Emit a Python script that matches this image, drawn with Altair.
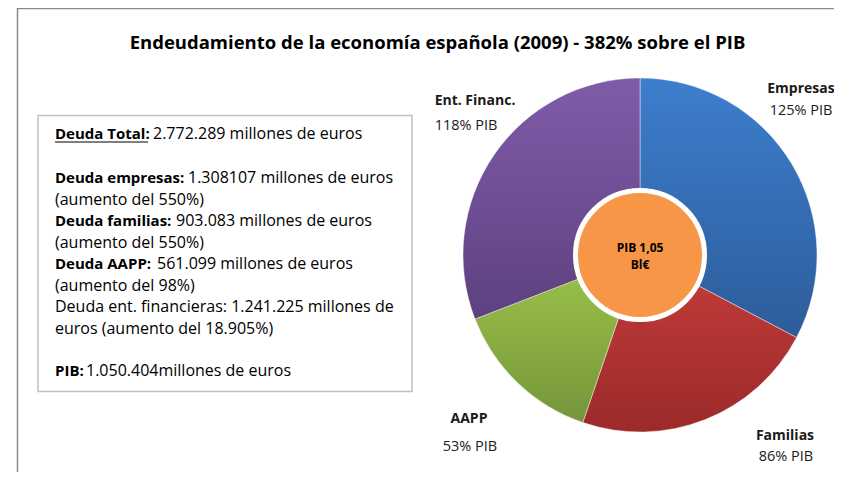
import altair as alt
import pandas as pd

# ---- data ----
categories = ["Empresas", "Familias", "AAPP", "Ent. Financ."]
pct_pib = [125, 86, 53, 118]
pct_labels = ["125% PIB", "86% PIB", "53% PIB", "118% PIB"]
top_colors = ["#3d7ecd", "#c43d3b", "#9dc44a", "#7f5ca9"]
bottom_colors = ["#2d5c9a", "#9b2a29", "#74953a", "#5d417f"]

title_text = "Endeudamiento de la economía española (2009) - 382% sobre el PIB"
center_lines = ["PIB 1,05", "Bl€"]
box_bold = ["Deuda Total:", "Deuda empresas:", "", "Deuda familias:", "", "Deuda AAPP:", "", "", "", "PIB:"]
box_regular = [
    "2.772.289 millones de euros",
    "1.308107 millones de euros",
    "(aumento del 550%)",
    "903.083 millones de euros",
    "(aumento del 550%)",
    "561.099 millones de euros",
    "(aumento del 98%)",
    "Deuda ent. financieras: 1.241.225 millones de",
    "euros (aumento del 18.905%)",
    "1.050.404millones de euros",
]

FONT = "Open Sans"
OFF = 8  # page margin
CX, CY, R = 640 - OFF, 255 - OFF, 177

df = pd.DataFrame({"cat": categories, "value": pct_pib, "order": list(range(len(categories)))})
total = sum(pct_pib)

base = alt.Chart(df).transform_window(
    end="sum(value)", sort=[alt.SortField("order")], frame=[None, 0]
).transform_calculate(start="datum.end - datum.value")


def txt(s, x, y, size, bold=False, align="left", color="#000000"):
    return alt.Chart(alt.Data(values=[{"a": 1}])).mark_text(
        font=FONT, fontSize=size, fontWeight="bold" if bold else "normal",
        align=align, baseline="middle", color=color,
    ).encode(x=alt.value(x - OFF), y=alt.value(y - OFF), text=alt.value(s))


layers = []

# outer frame
layers.append(
    alt.Chart(alt.Data(values=[{"a": 1}])).mark_rect(
        fill="white", stroke="#8a8a8a", strokeWidth=1.5
    ).encode(x=alt.value(17.5 - OFF), y=alt.value(8.5 - OFF), x2=alt.value(900), y2=alt.value(900))
)

# pie slices with vertical gradients
for i, c in enumerate(categories):
    grad = alt.LinearGradient(
        gradient="linear",
        stops=[alt.GradientStop(offset=0, color=top_colors[i]),
               alt.GradientStop(offset=1, color=bottom_colors[i])],
        x1=0, x2=0, y1=0, y2=1,
    )
    layers.append(
        base.transform_filter(alt.datum.cat == c).mark_arc(
            radius=R, fill=grad, stroke="#ffffff", strokeWidth=0.6, strokeOpacity=0.7
        ).encode(
            theta=alt.Theta("start:Q", scale=alt.Scale(domain=[0, total]), stack=None),
            theta2="end:Q",
            x=alt.value(CX), y=alt.value(CY),
        )
    )

# centre circle
layers.append(
    alt.Chart(alt.Data(values=[{"a": 1}])).mark_arc(
        radius=64.5, theta=0, theta2=6.2832, fill="#f79646", stroke="#ffffff", strokeWidth=5
    ).encode(x=alt.value(CX), y=alt.value(CY))
)
layers.append(txt(center_lines[0], 640, 248, 12, bold=True, align="center"))
layers.append(txt(center_lines[1], 640, 265, 12, bold=True, align="center"))

# slice labels
label_pos = {
    "Empresas": ((801, 89), (801, 111)),
    "Familias": ((785, 436), (786, 457)),
    "AAPP": ((469, 419), (470, 447)),
    "Ent. Financ.": ((475, 101), (466, 126)),
}
for c, p in zip(categories, pct_labels):
    (nx, ny), (px, py) = label_pos[c]
    layers.append(txt(c, nx, ny, 14, bold=True, align="center", color="#1a1a1a"))
    layers.append(txt(p, px, py, 14.5, align="center", color="#1a1a1a"))

# title
layers.append(txt(title_text, 437.5, 43, 18.5, bold=True, align="center"))

# text box
layers.append(
    alt.Chart(alt.Data(values=[{"a": 1}])).mark_rect(
        fill="white", stroke="#c0c0c0", strokeWidth=1.5
    ).encode(x=alt.value(38 - OFF), y=alt.value(115.5 - OFF), x2=alt.value(412 - OFF), y2=alt.value(391.5 - OFF))
)
line_y = [134, 178, 199.5, 221, 242.5, 264, 285.5, 307, 328.5, 371]
reg_x = [153, 188, 55, 176, 55, 157, 55, 55, 55, 86]
for b, r, y, rx in zip(box_bold, box_regular, line_y, reg_x):
    if b:
        layers.append(txt(b, 55, y, 15, bold=True))
    layers.append(txt(r, rx, y, 16))
# underline of "Deuda Total:"
layers.append(
    alt.Chart(alt.Data(values=[{"a": 1}])).mark_rule(color="#000000", strokeWidth=1.2).encode(
        x=alt.value(55 - OFF), x2=alt.value(148 - OFF), y=alt.value(142 - OFF)
    )
)

chart = alt.layer(*layers).properties(
    width=826, height=464, padding=0, autosize="none"
).configure_view(stroke=None)

chart.save("out.html", embed_options={"renderer": "svg", "actions": False})
